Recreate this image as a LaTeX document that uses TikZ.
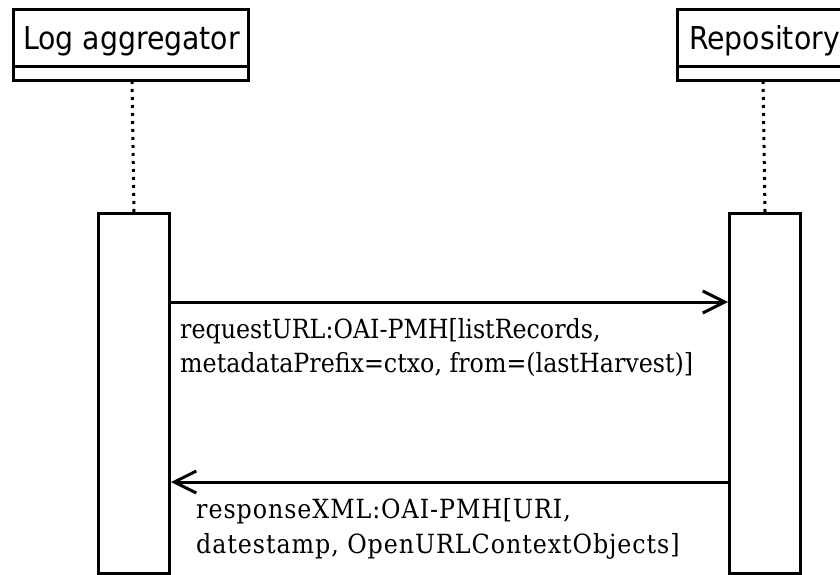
\documentclass[tikz,border=0pt]{standalone}
\usepackage{fontspec}
\usetikzlibrary{arrows.meta}
\newfontfamily\headfont{DejaVu Sans Condensed}
\newfontfamily\labfont{DejaVu Serif Condensed}
\newfontfamily\labfontwide[LetterSpace=3.6]{DejaVu Serif Condensed}
\begin{document}
\begin{tikzpicture}[x=1pt,y=-1pt,
  box/.style={draw=black,line width=3pt,fill=white},
  lifeline/.style={line width=3pt,dash pattern=on 3pt off 5pt},
  msg/.style={line width=3pt,-{Straight Barb[length=22pt,width=22pt,line width=3pt]}},
  headtxt/.style={font=\headfont\fontsize{31.5}{36}\selectfont,inner sep=0pt,anchor=base west},
  labtxt/.style={inner sep=0pt,anchor=base west,align=left}]
\useasboundingbox (0,0) rectangle (840,575);
\fill[white] (0,0) rectangle (840,575);
% header boxes
\draw[box] (13,10) rectangle (248,67);
\draw[box] (13,67) rectangle (248,81);
\draw[box] (677,10) rectangle (850,67);
\draw[box] (677,67) rectangle (850,81);
\node[headtxt] (h1) at (23,50) {Log aggregator};
\node[headtxt] (h2) at (689,50) {Repository};
% lifelines
\coordinate (l1top) at (132,81);
\coordinate (l2top) at (763,81);
\node[box,minimum width=71pt,minimum height=360pt,inner sep=0pt,anchor=north west] (a1) at (97,212) {};
\node[box,minimum width=71pt,minimum height=360pt,inner sep=0pt,anchor=north west] (a2) at (728,212) {};
\draw[lifeline] (l1top) -- (a1.north);
\draw[lifeline] (l2top) -- (a2.north);
% messages
\draw[msg] (a1.east |- 0,302) -- (a2.west |- 0,302);
\draw[msg] (a2.west |- 0,482) -- (a1.east |- 0,482);
\node[labtxt,font=\labfont\fontsize{26.4}{34}\selectfont] (t1) at (180,372) {requestURL:OAI-PMH[listRecords,\\metadataPrefix=ctxo, from=(lastHarvest)]};
\node[labtxt,font=\labfontwide\fontsize{26.4}{35}\selectfont] (t2) at (196,553) {responseXML:OAI-PMH[URI,\\datestamp, OpenURLContextObjects]};
\end{tikzpicture}
\end{document}
